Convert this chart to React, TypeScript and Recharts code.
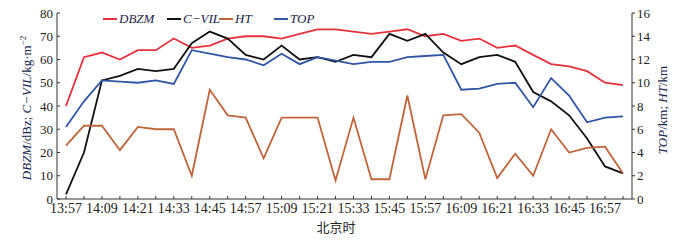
import { LineChart, Line, XAxis, YAxis, Legend, Label } from "recharts";

const times = [
  "13:57", "14:03", "14:09", "14:15", "14:21", "14:27", "14:33", "14:39",
  "14:45", "14:51", "14:57", "15:03", "15:09", "15:15", "15:21", "15:27",
  "15:33", "15:39", "15:45", "15:51", "15:57", "16:03", "16:09", "16:15",
  "16:21", "16:27", "16:33", "16:39", "16:45", "16:51", "16:57", "17:03",
];

const dbzm = [
  40, 61, 63, 60, 64, 64, 69, 65, 66, 69, 70, 70, 69, 71, 73, 73,
  72, 71, 72, 73, 70, 71, 68, 69, 65, 66, 62, 58, 57, 55, 50, 49,
];

const cvil = [
  2, 20, 51, 53, 56, 55, 56, 67, 72, 69, 62, 60, 66, 60, 61, 59,
  62, 61, 71, 68, 71, 63, 58, 61, 62, 59, 46, 42, 36, 26, 14, 11,
];

const ht = [
  4.6, 6.3, 6.3, 4.2, 6.2, 6.0, 6.0, 2.0, 9.4, 7.2, 7.0, 3.5, 7.0, 7.0, 7.0, 1.6,
  7.0, 1.7, 1.7, 8.9, 1.7, 7.2, 7.3, 5.7, 1.8, 3.9, 2.0, 6.0, 4.0, 4.4, 4.5, 2.2,
];

const top = [
  6.2, 8.4, 10.2, 10.1, 10.0, 10.2, 9.9, 12.8, 12.5, 12.2, 12.0, 11.5, 12.5, 11.6, 12.2, 11.9,
  11.6, 11.8, 11.8, 12.2, 12.3, 12.4, 9.4, 9.5, 9.9, 10.0, 7.9, 10.4, 8.9, 6.6, 7.0, 7.1,
];

const leftTicks = [0, 10, 20, 30, 40, 50, 60, 70, 80];
const rightTicks = [0, 2, 4, 6, 8, 10, 12, 14, 16];

const data = times.map((t, i) => ({
  time: t,
  DBZM: dbzm[i],
  CVIL: cvil[i],
  HT: ht[i],
  TOP: top[i],
}));

const SERIF = "'Liberation Serif', 'Times New Roman', serif";
const AXIS = "#333";

const legendItems = [
  { name: "DBZM", color: "#e5323b", left: 103 },
  { name: "C\u2212VIL", color: "#111111", left: 167 },
  { name: "HT", color: "#c0653a", left: 219 },
  { name: "TOP", color: "#2f55a5", left: 274 },
];

function XTick(props: any) {
  const { x, y, payload, index } = props;
  return (
    <g>
      <line x1={x} x2={x} y1={y} y2={y - 3} stroke={AXIS} />
      {index % 2 === 0 && (
        <text x={x} y={y + 14} textAnchor="middle" fontSize={14} fontFamily={SERIF} fill="#222">
          {payload.value}
        </text>
      )}
    </g>
  );
}

function LeftTick(props: any) {
  const { x, y, payload } = props;
  return (
    <g>
      <line x1={x} x2={x + 3} y1={y} y2={y} stroke={AXIS} />
      <text x={x - 4} y={y + 4.5} textAnchor="end" fontSize={13} fontFamily={SERIF} fill="#222">
        {payload.value}
      </text>
    </g>
  );
}

function RightTick(props: any) {
  const { x, y, payload } = props;
  return (
    <g>
      <line x1={x} x2={x + 3} y1={y} y2={y} stroke={AXIS} />
      <text x={x + 5} y={y + 4.5} textAnchor="start" fontSize={13} fontFamily={SERIF} fill="#222">
        {payload.value}
      </text>
    </g>
  );
}

function LeftLabel() {
  return (
    <text
      transform="translate(31, 108) rotate(-90)"
      textAnchor="middle"
      fontSize={13}
      fontFamily={SERIF}
      fill="#1a2550"
    >
      <tspan fontStyle="italic">DBZM</tspan>
      <tspan>/dBz;  </tspan>
      <tspan fontStyle="italic">C{"\u2212"}VIL</tspan>
      <tspan>/kg·m</tspan>
      <tspan fontSize={9} dy={-5}>{"\u2212"}2</tspan>
    </text>
  );
}

function RightLabel() {
  return (
    <text
      transform="translate(667, 110) rotate(-90)"
      textAnchor="middle"
      fontSize={13}
      fontFamily={SERIF}
      fill="#1a2550"
    >
      <tspan fontStyle="italic">TOP</tspan>
      <tspan>/km; </tspan>
      <tspan fontStyle="italic">HT</tspan>
      <tspan>/km</tspan>
    </text>
  );
}

function XLabel() {
  return (
    <text
      x={336}
      y={232}
      textAnchor="middle"
      fontSize={13}
      fontFamily="'Noto Sans CJK SC', sans-serif"
      fill="#222"
    >
      北京时
    </text>
  );
}

function renderLegend() {
  return (
    <div style={{ position: "relative", width: 678, height: 30 }}>
      {legendItems.map((it) => (
        <div
          key={it.name}
          style={{
            position: "absolute",
            left: it.left,
            top: 11,
            display: "flex",
            alignItems: "center",
            whiteSpace: "nowrap",
          }}
        >
          <span style={{ display: "inline-block", width: 14, height: 2, background: it.color, marginRight: 2 }} />
          <span style={{ fontFamily: SERIF, fontStyle: "italic", fontSize: 13, color: "#1a2550" }}>{it.name}</span>
        </div>
      ))}
    </div>
  );
}

export default function App() {
  return (
    <div style={{ width: 678, height: 241, margin: "-8px 0 0 -8px" }}>
      <LineChart width={678} height={241} data={data} margin={{ top: 13, right: 0, bottom: 0, left: 0 }}>
        <XAxis
          dataKey="time"
          interval={0}
          padding={{ left: 9, right: 9 }}
          height={42}
          tickSize={0}
          tickMargin={0}
          tickLine={false}
          tick={<XTick />}
          stroke={AXIS}
        >
          <Label content={XLabel} />
        </XAxis>
        <YAxis
          yAxisId="left"
          orientation="left"
          width={57}
          domain={[0, 80]}
          ticks={leftTicks}
          interval={0}
          tickSize={0}
          tickMargin={0}
          tickLine={false}
          tick={<LeftTick />}
          stroke={AXIS}
        >
          <Label content={LeftLabel} />
        </YAxis>
        <YAxis
          yAxisId="right"
          orientation="right"
          width={46}
          domain={[0, 16]}
          ticks={rightTicks}
          interval={0}
          tickSize={0}
          tickMargin={0}
          tickLine={false}
          tick={<RightTick />}
          stroke={AXIS}
        >
          <Label content={RightLabel} />
        </YAxis>
        <Legend
          content={renderLegend}
          layout="horizontal"
          verticalAlign="middle"
          align="center"
          wrapperStyle={{ top: 0, left: 0, width: 678, height: 30 }}
        />
        <Line yAxisId="left" dataKey="DBZM" stroke="#e5323b" strokeWidth={1.8} dot={false} isAnimationActive={false} />
        <Line yAxisId="left" dataKey="CVIL" stroke="#111111" strokeWidth={1.8} dot={false} isAnimationActive={false} />
        <Line yAxisId="right" dataKey="HT" stroke="#c0653a" strokeWidth={1.8} dot={false} isAnimationActive={false} />
        <Line yAxisId="right" dataKey="TOP" stroke="#2f55a5" strokeWidth={1.8} dot={false} isAnimationActive={false} />
      </LineChart>
    </div>
  );
}
